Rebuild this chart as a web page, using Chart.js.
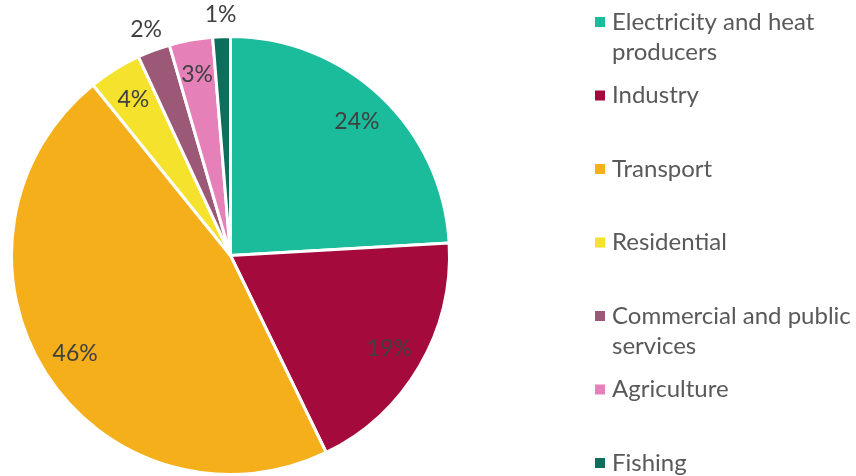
<!DOCTYPE html>
<html>
<head>
<meta charset="utf-8">
<script src="https://cdn.jsdelivr.net/npm/chart.js@4"></script>
<style>
  html, body { margin: 0; padding: 0; background: #fff; }
  #wrap { width: 856px; height: 476px; }
</style>
</head>
<body>
<div id="wrap"><canvas id="pieChart" width="856" height="476"></canvas></div>
<script>
// Final energy use by sector (share, %)
const sectors = ["Electricity and heat producers", "Industry", "Transport", "Residential",
  "Commercial and public services", "Agriculture", "Fishing"];
const shares = [24.1, 18.7, 46.4, 3.9, 2.4, 3.2, 1.3];
const colors = ["#1abc9c", "#a50a3c", "#f5af1b", "#f4e22c", "#9b5877", "#e680b8", "#0e6e5c"];

const FONT = "Lato, 'Open Sans', sans-serif";

// percentage labels, small slices get pushed outside the pie
const sliceLabels = {
  id: "sliceLabels",
  afterDatasetsDraw(chart) {
    const ctx = chart.ctx;
    const meta = chart.getDatasetMeta(0);
    const total = shares.reduce((a, b) => a + b, 0);
    ctx.save();
    ctx.font = "23px " + FONT;
    ctx.fillStyle = "#404040";
    ctx.textAlign = "center";
    ctx.textBaseline = "middle";
    meta.data.forEach((arc, i) => {
      const p = arc.getProps(["x", "y", "startAngle", "endAngle", "outerRadius"], true);
      const mid = (p.startAngle + p.endAngle) / 2;
      const f = shares[i] < 3 ? 1.1 : 0.84;
      const x = p.x + Math.cos(mid) * p.outerRadius * f;
      const y = p.y + Math.sin(mid) * p.outerRadius * f;
      ctx.fillText(Math.round(shares[i] / total * 100) + "%", x, y);
    });
    ctx.restore();
  }
};

// legend on the right, wrapped text
const sideLegend = {
  id: "sideLegend",
  afterDraw(chart) {
    const ctx = chart.ctx;
    ctx.save();
    ctx.font = "24px " + FONT;
    ctx.textBaseline = "middle";
    sectors.forEach((name, i) => {
      const y = 22 + i * 73.5;
      ctx.fillStyle = colors[i];
      ctx.fillRect(595, y - 5, 10, 10);
      // word wrap
      const words = name.split(" ");
      const lines = [];
      let line = "";
      words.forEach(w => {
        const test = line ? line + " " + w : w;
        if (ctx.measureText(test).width > 244 && line) {
          lines.push(line);
          line = w;
        } else {
          line = test;
        }
      });
      lines.push(line);
      ctx.fillStyle = "#595959";
      lines.forEach((l, j) => ctx.fillText(l, 612, y + j * 30));
    });
    ctx.restore();
  }
};

new Chart(document.getElementById("pieChart"), {
  type: "pie",
  data: {
    labels: sectors,
    datasets: [{
      data: shares,
      backgroundColor: colors,
      borderColor: "#ffffff",
      borderWidth: 3
    }]
  },
  options: {
    responsive: false,
    animation: false,
    layout: { padding: { left: 10, top: 35, right: 405, bottom: 0 } },
    plugins: {
      legend: { display: false },
      tooltip: { enabled: false }
    }
  },
  plugins: [sliceLabels, sideLegend]
});
</script>
</body>
</html>
